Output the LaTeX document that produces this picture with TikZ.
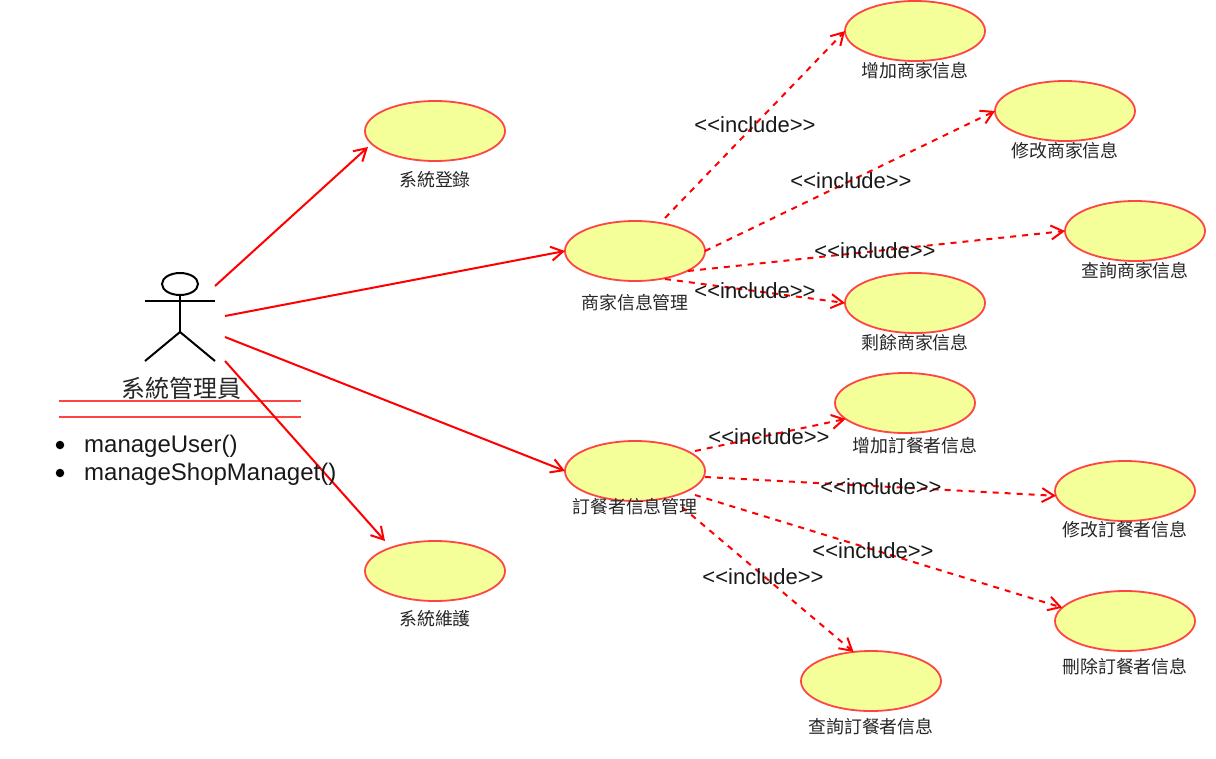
\documentclass[tikz,border=0pt]{standalone}
\usepackage{fontspec}
\setmainfont{Liberation Sans}
\newfontfamily\cjk{Noto Sans CJK TC}
\usetikzlibrary{shapes.geometric,arrows.meta}
\definecolor{ucfill}{HTML}{F5FF99}
\definecolor{ucline}{HTML}{FF4444}
\tikzset{
  usecase/.style={ellipse,draw=ucline,fill=ucfill,line width=1.8pt,minimum width=140pt,minimum height=60pt,inner sep=0pt,outer sep=0pt},
  cjklabel/.style={font=\cjk\fontsize{17.9pt}{20pt}\selectfont,inner sep=0pt,text=black!85},
  inclabel/.style={font=\fontsize{22pt}{26pt}\selectfont,inner sep=0pt,text=black!90},
  assoc/.style={draw=red,line width=2pt,-{Straight Barb[length=12pt,width=14pt,line width=2pt]}},
  incl/.style={assoc,dash pattern=on 6pt off 6pt},
  actorline/.style={draw=black,line width=2pt},
  classline/.style={draw=ucline,line width=1.7pt},
  listtext/.style={font=\fontsize{24pt}{28pt}\selectfont,anchor=west,inner sep=0pt,text=black!90},
  bulletdot/.style={circle,fill=black,inner sep=0pt,minimum size=8.5pt}
}
\begin{document}
\begin{tikzpicture}[x=1pt,y=-1pt]
\useasboundingbox (0,0) rectangle (1216,758);
% use cases
\node[usecase] (login) at (435,131) {};
\node[usecase] (maint) at (435,571) {};
\node[usecase] (shop) at (635,251) {};
\node[usecase] (order) at (635,471) {};
\node[usecase] (sadd) at (915,31) {};
\node[usecase] (smod) at (1065,111) {};
\node[usecase] (squery) at (1135,231) {};
\node[usecase] (sdel) at (915,303) {};
\node[usecase] (oadd) at (905,403) {};
\node[usecase] (omod) at (1125,491) {};
\node[usecase] (odel) at (1125,621) {};
\node[usecase] (oquery) at (871,681) {};
% actor
\draw[actorline] (180,284) ellipse [x radius=18,y radius=11];
\draw[actorline] (145,301) -- (215,301);
\draw[actorline] (180,295) -- (180,332);
\draw[actorline] (145,361) -- (180,332) -- (215,361);
\coordinate (a1) at (215,286);
\coordinate (a2) at (225,316);
\coordinate (a3) at (225,337);
\coordinate (a4) at (225,361);
\coordinate (loginend) at (368,147);
\coordinate (maintend) at (385,541);
\coordinate (s1) at (665,218);
\coordinate (s3) at (688,271);
\coordinate (s4) at (665,279);
\coordinate (o1) at (695,451);
\coordinate (o2) at (705,477);
\coordinate (o3) at (695,495);
\coordinate (o4) at (682,507);
\node[font=\cjk\fontsize{24pt}{26pt}\selectfont,inner sep=0pt,text=black!85] (actorname) at (181,388) {系統管理員};
% class separators
\coordinate (c1) at (59,401); \coordinate (c2) at (301,401);
\coordinate (c3) at (59,417); \coordinate (c4) at (301,417);
\draw[classline] (c1) -- (c2);
\draw[classline] (c3) -- (c4);
% associations
\draw[assoc] (a1) -- (loginend);
\draw[assoc] (a2) -- (shop.west);
\draw[assoc] (a3) -- (order.west);
\draw[assoc] (a4) -- (maintend);
% includes
\draw[incl] (s1) -- (sadd.west);
\draw[incl] (shop.east) -- (smod.west);
\draw[incl] (s3) -- (squery.west);
\draw[incl] (s4) -- (sdel.west);
\draw[incl] (o1) -- (oadd.195);
\draw[incl] (o2) -- (omod.184);
\draw[incl] (o3) -- (odel.168);
\draw[incl] (o4) -- (oquery.121);
% list
\node[bulletdot] (b1) at (60,445) {};
\node[bulletdot] (b2) at (60,473) {};
\node[listtext] (m1) at (84,446) {manageUser()};
\node[listtext] (m2) at (84,474) {manageShopManaget()};
% labels
\node[cjklabel] (llogin) at (435,180) {系統登錄};
\node[cjklabel] (lmaint) at (435,619) {系統維護};
\node[cjklabel] (lshop) at (635,303) {商家信息管理};
\node[cjklabel] (lorder) at (635,507) {訂餐者信息管理};
\node[cjklabel] (lsadd) at (915,71) {增加商家信息};
\node[cjklabel] (lsmod) at (1065,151) {修改商家信息};
\node[cjklabel] (lsquery) at (1135,271) {查詢商家信息};
\node[cjklabel] (lsdel) at (915,343) {剩餘商家信息};
\node[cjklabel] (loadd) at (915,446) {增加訂餐者信息};
\node[cjklabel] (lomod) at (1125,530) {修改訂餐者信息};
\node[cjklabel] (lodel) at (1125,667) {刪除訂餐者信息};
\node[cjklabel] (loquery) at (871,727) {查詢訂餐者信息};
\node[inclabel] (i1) at (755,125) {<{}<include>{}>};
\node[inclabel] (i2) at (851,181) {<{}<include>{}>};
\node[inclabel] (i3) at (875,251) {<{}<include>{}>};
\node[inclabel] (i4) at (755,291) {<{}<include>{}>};
\node[inclabel] (i5) at (769,437) {<{}<include>{}>};
\node[inclabel] (i6) at (881,487) {<{}<include>{}>};
\node[inclabel] (i7) at (873,551) {<{}<include>{}>};
\node[inclabel] (i8) at (763,577) {<{}<include>{}>};
\end{tikzpicture}
\end{document}
